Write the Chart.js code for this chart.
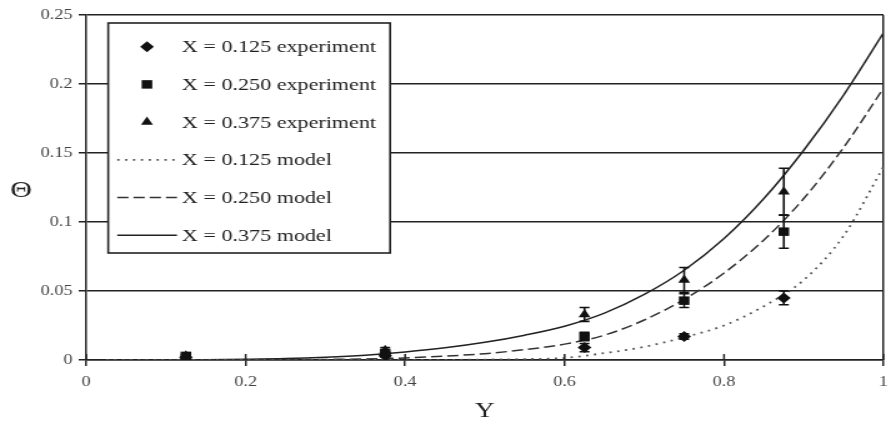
<!DOCTYPE html>
<html>
<head>
<meta charset="utf-8">
<script src="https://cdn.jsdelivr.net/npm/chart.js@4.4.0/dist/chart.umd.min.js"></script>
<style>
html,body{margin:0;padding:0;background:#fff;overflow:hidden}
/* the reference is stretched sideways, so draw narrow and stretch */
#wrap{width:713px;height:429px;transform:scaleX(1.2496);transform-origin:0 0}
</style>
</head>
<body>
<div id="wrap"><canvas id="c" width="713" height="429"></canvas></div>
<script>
const xTickLabels = ['0','0.2','0.4','0.6','0.8','1'];
const yTickLabels = ['0','0.05','0.1','0.15','0.2','0.25'];

// experiment points (Y positions)
const expY   = [0.125, 0.375, 0.625, 0.75, 0.875];
const exp125 = [0.002, 0.003, 0.009, 0.017, 0.045];
const exp250 = [0.003, 0.005, 0.017, 0.043, 0.093];
const exp375 = [0.003, 0.007, 0.033, 0.058, 0.122];
const err125 = [0.001, 0.001, 0.003, 0.002, 0.005];
const err250 = [0.001, 0.001, 0.003, 0.005, 0.012];
const err375 = [0.001, 0.002, 0.005, 0.009, 0.017];

// model curves
const modelY   = [0.025,0.05,0.1,0.15,0.2,0.25,0.3,0.35,0.4,0.45,0.5,0.55,0.6,0.65,0.7,0.75,0.8,0.85,0.9,0.95,1.0];
const model125 = [0,0,0,0,0,0,0,0,0,0.0001,0.0003,0.0007,0.0015,0.005,0.0095,0.0165,0.025,0.039,0.058,0.090,0.140];
const model250 = [0,0,0,0,0.0001,0.0002,0.0004,0.0008,0.0015,0.0028,0.0046,0.0075,0.0115,0.018,0.029,0.044,0.063,0.087,0.117,0.154,0.197];
const model375 = [0,0,0.0001,0.0002,0.0005,0.001,0.002,0.0035,0.0058,0.0088,0.0128,0.018,0.0245,0.034,0.0475,0.065,0.088,0.117,0.152,0.192,0.237];

const FONT = 'Liberation Serif';
const pts = (xs, ys) => xs.map((x, i) => ({x: x, y: ys[i]}));

function expSet(label, ys, errs, style, r){
  return {label: label, data: pts(expY, ys), errors: errs, showLine: false,
    pointStyle: style, pointRadius: r, pointHoverRadius: r,
    backgroundColor: '#111', borderColor: '#111', borderWidth: 0};
}
function modelSet(label, ys, color, dash, w){
  return {label: label, data: pts(modelY, ys), showLine: true, pointRadius: 0,
    borderColor: color, borderWidth: w, borderDash: dash, cubicInterpolationMode: 'monotone'};
}

const errorBars = {
  id: 'errorBars',
  afterDatasetsDraw(chart){
    const ctx = chart.ctx, xs = chart.scales.x, ys = chart.scales.y;
    ctx.save();
    ctx.strokeStyle = '#111';
    ctx.lineWidth = 1.6;
    chart.data.datasets.forEach(ds => {
      if (!ds.errors) return;
      ds.data.forEach((p, i) => {
        const e = ds.errors[i];
        const px = xs.getPixelForValue(p.x);
        const top = ys.getPixelForValue(p.y + e), bot = ys.getPixelForValue(p.y - e);
        ctx.beginPath();
        ctx.moveTo(px, top); ctx.lineTo(px, bot);
        ctx.moveTo(px - 4, top); ctx.lineTo(px + 4, top);
        ctx.moveTo(px - 4, bot); ctx.lineTo(px + 4, bot);
        ctx.stroke();
      });
    });
    ctx.restore();
  }
};

const extras = {
  id: 'extras',
  afterDraw(chart){
    const ctx = chart.ctx, a = chart.chartArea, xs = chart.scales.x;
    ctx.save();
    // x tick marks reaching into the plot
    ctx.strokeStyle = '#222';
    ctx.lineWidth = 1.5;
    xs.ticks.forEach(t => {
      const px = xs.getPixelForValue(t.value);
      ctx.beginPath(); ctx.moveTo(px, a.bottom - 6); ctx.lineTo(px, a.bottom); ctx.stroke();
    });
    // y title, upright
    ctx.fillStyle = '#222';
    ctx.font = '24px "' + FONT + '"';
    ctx.textAlign = 'center';
    ctx.textBaseline = 'middle';
    ctx.fillText('\u0398', 17, (a.top + a.bottom) / 2 + 3);

    // boxed legend
    const L = a.left + 17.6, T = a.top + 8, W = 225.6, H = 230;
    ctx.fillStyle = '#fff';
    ctx.fillRect(L, T, W, H);
    ctx.strokeStyle = '#222';
    ctx.lineWidth = 1.6;
    ctx.strokeRect(L, T, W, H);
    ctx.font = '17.7px "' + FONT + '"';
    ctx.textAlign = 'left';
    chart.data.datasets.forEach((ds, i) => {
      const y = T + 23.7 + i * 37.7;
      if (ds.showLine) {
        ctx.save();
        ctx.strokeStyle = ds.borderColor;
        ctx.lineWidth = ds.borderWidth;
        ctx.setLineDash(ds.borderDash || []);
        ctx.beginPath(); ctx.moveTo(L + 7.2, y); ctx.lineTo(L + 55, y); ctx.stroke();
        ctx.restore();
      } else {
        ctx.fillStyle = '#111';
        ctx.strokeStyle = '#111';
        Chart.helpers.drawPoint(ctx, {pointStyle: ds.pointStyle, radius: ds.pointRadius, rotation: 0, borderWidth: 0}, L + 31, y);
      }
      ctx.fillStyle = '#222';
      ctx.fillText(ds.label, L + 59, y + 1);
    });
    ctx.restore();
  }
};

new Chart(document.getElementById('c'), {
  type: 'scatter',
  data: {
    datasets: [
      expSet('X = 0.125 experiment', exp125, err125, 'rectRot', 5.5),
      expSet('X = 0.250 experiment', exp250, err250, 'rect', 6),
      expSet('X = 0.375 experiment', exp375, err375, 'triangle', 5.5),
      modelSet('X = 0.125 model', model125, '#555', [1.8, 4.5], 1.8),
      modelSet('X = 0.250 model', model250, '#333', [9, 4], 1.5),
      modelSet('X = 0.375 model', model375, '#222', [], 1.5)
    ]
  },
  options: {
    responsive: false,
    animation: false,
    layout: {padding: {top: 15, right: -3.5, left: 0, bottom: 0}},
    plugins: {legend: {display: false}, tooltip: {enabled: false}},
    scales: {
      x: {
        type: 'linear', min: 0, max: 1,
        ticks: {stepSize: 0.2, padding: 7, color: '#444', maxRotation: 0,
          font: {family: FONT, size: 14.6}, callback: (v, i) => xTickLabels[i]},
        grid: {drawOnChartArea: true, lineWidth: 1.5, tickLength: 6, tickColor: '#222',
          color: c => (c.tick && c.tick.value === 1) ? '#222' : 'rgba(0,0,0,0)'},
        border: {color: '#222', width: 1.5},
        title: {display: true, text: 'Y', color: '#222', font: {family: FONT, size: 22}, padding: {top: 0, bottom: 5}},
        afterFit: s => { s.height = 69; s.paddingRight = 0; s.paddingLeft = 0; }
      },
      y: {
        min: 0, max: 0.25,
        ticks: {stepSize: 0.05, padding: 5, color: '#444',
          font: {family: FONT, size: 14.6}, callback: (v, i) => yTickLabels[i]},
        grid: {color: '#222', lineWidth: 1.5, tickLength: 6},
        border: {color: '#222', width: 1.5},
        afterFit: s => { s.width = 69; }
      }
    }
  },
  plugins: [errorBars, extras]
});
</script>
</body>
</html>
